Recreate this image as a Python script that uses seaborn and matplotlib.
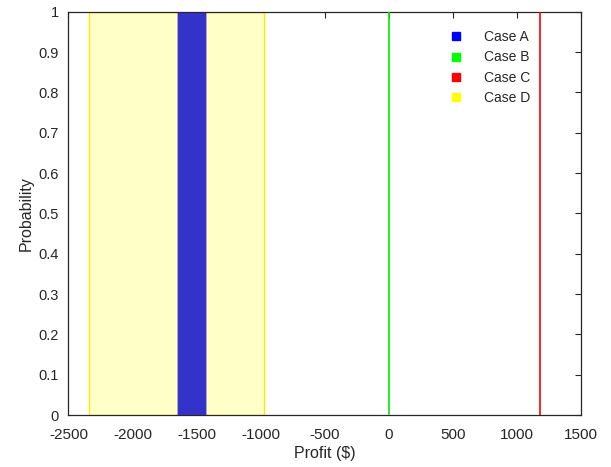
import matplotlib
matplotlib.use("Agg")
import matplotlib.pyplot as plt
import seaborn as sns
import pandas as pd
from matplotlib.lines import Line2D

# Data
cases = ["Case A", "Case B", "Case C", "Case D"]
colors = ["#0000ff", "#00ff00", "#ff0000", "#ffff00"]
case_a_range = [-1655, -1425]
case_b_value = 0
case_c_value = 1180
case_d_range = [-2340, -975]
x_ticks = [-2500, -2000, -1500, -1000, -500, 0, 500, 1000, 1500]
y_ticks = [0, 0.1, 0.2, 0.3, 0.4, 0.5, 0.6, 0.7, 0.8, 0.9, 1]
y_tick_labels = ["0", "0.1", "0.2", "0.3", "0.4", "0.5", "0.6", "0.7", "0.8", "0.9", "1"]

sns.set_style("white")
plt.rcParams["font.family"] = ["Liberation Sans", "DejaVu Sans"]

fig = plt.figure(figsize=(6.11, 4.67), dpi=100)
ax = fig.add_axes([0.112, 0.111, 0.839, 0.864])

# Case D: light yellow band with yellow edges
ax.axvspan(case_d_range[0], case_d_range[1], ymin=0, ymax=1,
           facecolor="#ffffc8", edgecolor="#f0f000", linewidth=1.0, zorder=1)
# Case A: blue band
ax.axvspan(case_a_range[0], case_a_range[1], ymin=0, ymax=1,
           facecolor="#3333cc", edgecolor="#b0b0b8", linewidth=0.6, zorder=2)

# Case B and C as vertical lines
lines_df = pd.DataFrame({
    "x": [case_b_value, case_b_value, case_c_value, case_c_value],
    "y": [0, 1, 0, 1],
    "case": ["Case B", "Case B", "Case C", "Case C"],
})
sns.lineplot(data=lines_df, x="x", y="y", hue="case",
             palette={"Case B": "#00ee00", "Case C": "#ff0000"},
             estimator=None, sort=False, linewidth=1.2, legend=False, ax=ax, zorder=3)

ax.set_xlim(-2500, 1500)
ax.set_ylim(0, 1)
ax.set_xticks(x_ticks)
ax.set_xticklabels([str(t) for t in x_ticks])
ax.set_yticks(y_ticks)
ax.set_yticklabels(y_tick_labels)
ax.tick_params(direction="in", length=4, width=0.8, top=True, right=True,
               labelsize=11, colors="#262626")
ax.tick_params(axis="x", pad=9)
ax.tick_params(axis="y", pad=7, labelsize=10.5)
for s in ax.spines.values():
    s.set_color("#262626")
    s.set_linewidth(0.9)
    s.set_visible(True)

ax.set_xlabel("Profit ($)", fontsize=11.5, color="#262626", labelpad=3)
ax.set_ylabel("Probability", fontsize=11.5, color="#262626", labelpad=3)

handles = [Line2D([], [], marker="s", linestyle="none", markersize=6,
                  markerfacecolor=c, markeredgecolor=c) for c in colors]
leg = ax.legend(handles, cases, loc="upper right", bbox_to_anchor=(0.925, 0.985),
                frameon=False, fontsize=10, handletextpad=1.5, labelspacing=0.45,
                handlelength=1.0)
for t in leg.get_texts():
    t.set_color("#262626")

fig.savefig("out.png", dpi=100)
